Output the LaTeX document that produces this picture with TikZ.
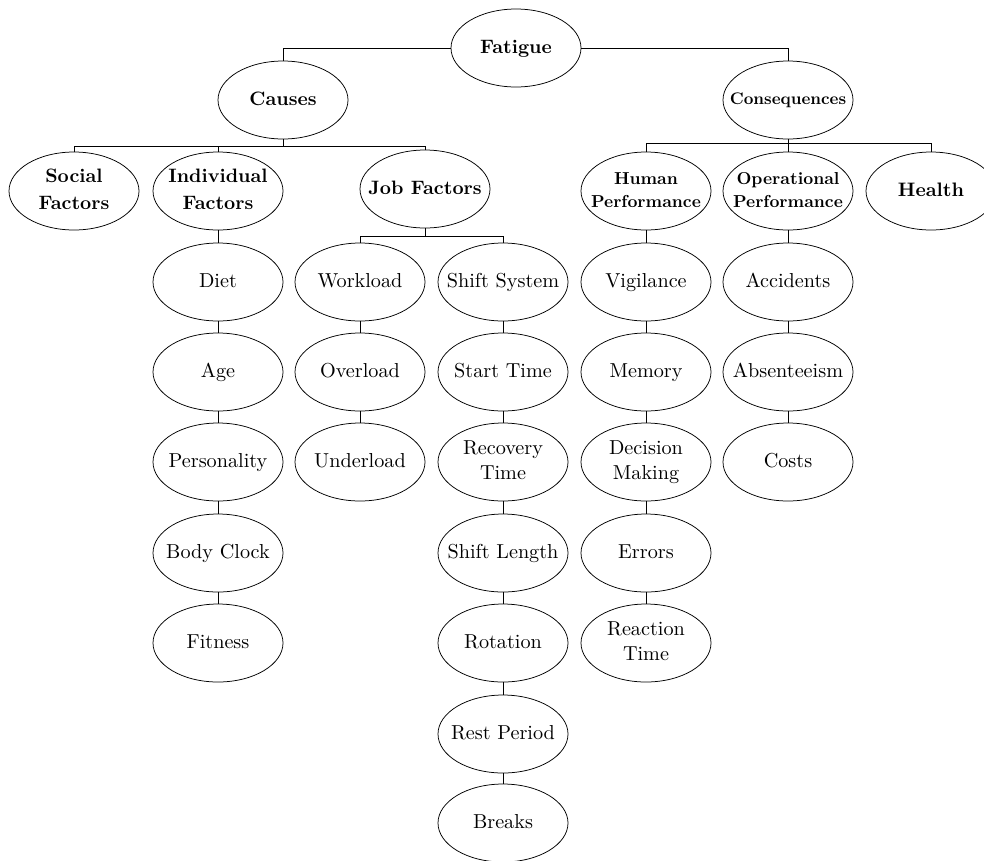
\documentclass[tikz,border=0pt]{standalone}
\usepackage{fontspec}
\setmainfont{lmroman10-regular.otf}[BoldFont=lmroman10-bold.otf]
\usetikzlibrary{shapes.geometric}
\newcommand\lines[1]{\makebox[0pt]{\begin{tabular}{@{}c@{}}#1\end{tabular}}}
\begin{document}
\begin{tikzpicture}[x=1pt,y=-1pt,
  oval/.style={ellipse, draw, line width=0.75pt, minimum width=130pt,
    minimum height=78pt, inner sep=0pt, font=\fontsize{20.2}{25}\selectfont},
  head/.style={oval, font=\fontsize{19.4}{27}\selectfont\bfseries},
  subhead/.style={oval, font=\fontsize{17.3}{23}\selectfont\bfseries},
  link/.style={line width=0.75pt}]
\useasboundingbox (0,0) rectangle (984,860);

% top levels
\node[head] (fat) at (516,48) {\lines{Fatigue}};
\node[head] (cau) at (283,100) {\lines{Causes}};
\node[subhead, font=\fontsize{16.8}{23}\selectfont\bfseries] (con) at (788,100) {\lines{Consequences}};

% second level
\node[head] (soc) at (74,191) {\lines{Social\\Factors}};
\node[head] (ind) at (218,191) {\lines{Individual\\Factors}};
\node[head] (job) at (425,189) {\lines{Job Factors}};
\node[subhead] (hum) at (646,191) {\lines{Human\\Performance}};
\node[subhead] (ope) at (788,191) {\lines{Operational\\Performance}};
\node[head, font=\fontsize{19.5}{27}\selectfont\bfseries] (hea) at (931,191) {\lines{Health}};

% individual factors
\node[oval] (die) at (218,282) {\lines{Diet}};
\node[oval] (age) at (218,372) {\lines{Age}};
\node[oval] (per) at (218,462) {\lines{Personality}};
\node[oval] (bod) at (218,553) {\lines{Body Clock}};
\node[oval] (fit) at (218,643) {\lines{Fitness}};

% job factors
\node[oval] (wor) at (360,282) {\lines{Workload}};
\node[oval] (ove) at (360,372) {\lines{Overload}};
\node[oval] (und) at (360,462) {\lines{Underload}};
\node[oval] (shs) at (503,282) {\lines{Shift System}};
\node[oval] (sta) at (503,372) {\lines{Start Time}};
\node[oval] (rec) at (503,462) {\lines{Recovery\\Time}};
\node[oval] (shl) at (503,553) {\lines{Shift Length}};
\node[oval] (rot) at (503,643) {\lines{Rotation}};
\node[oval] (res) at (503,734) {\lines{Rest Period}};
\node[oval] (bre) at (503,823) {\lines{Breaks}};

% human performance
\node[oval] (vig) at (646,282) {\lines{Vigilance}};
\node[oval] (mem) at (646,372) {\lines{Memory}};
\node[oval] (dec) at (646,462) {\lines{Decision\\Making}};
\node[oval] (err) at (646,553) {\lines{Errors}};
\node[oval] (rea) at (646,643) {\lines{Reaction\\Time}};

% operational performance
\node[oval] (acc) at (788,282) {\lines{Accidents}};
\node[oval] (abs) at (788,372) {\lines{Absenteeism}};
\node[oval] (cos) at (788,462) {\lines{Costs}};

% bus lines
\coordinate (cbus) at (283,146);
\coordinate (jbus) at (425,236);
\coordinate (kbus) at (788,143);

\draw[link] (fat.west) -| (cau.north);
\draw[link] (fat.east) -| (con.north);

\draw[link] (cau.south) -- (cau.south |- cbus);
\draw[link] (soc.north) |- (job.north |- cbus) -- (job.north);
\draw[link] (ind.north) -- (ind.north |- cbus);

\draw[link] (job.south) -- (job.south |- jbus);
\draw[link] (wor.north) |- (shs.north |- jbus) -- (shs.north);

\draw[link] (con.south) -- (con.south |- kbus);
\draw[link] (hum.north) |- (hea.north |- kbus) -- (hea.north);
\draw[link] (ope.north) -- (ope.north |- kbus);

% vertical chains
\draw[link] (ind) -- (die) -- (age) -- (per) -- (bod) -- (fit);
\draw[link] (wor) -- (ove) -- (und);
\draw[link] (shs) -- (sta) -- (rec) -- (shl) -- (rot) -- (res) -- (bre);
\draw[link] (hum) -- (vig) -- (mem) -- (dec) -- (err) -- (rea);
\draw[link] (ope) -- (acc) -- (abs) -- (cos);
\end{tikzpicture}
\end{document}
